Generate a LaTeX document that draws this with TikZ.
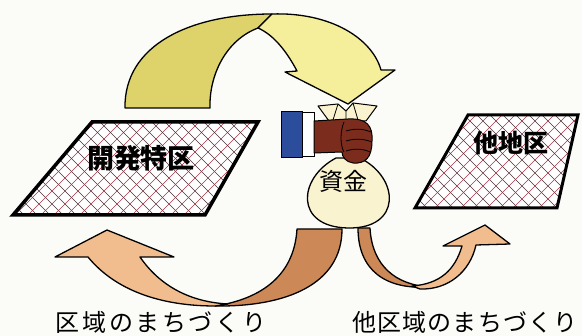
\documentclass[tikz,border=0pt]{standalone}
\usepackage{fontspec}
\newfontfamily\jp{Noto Sans CJK JP}
\newfontfamily\jpwide[LetterSpace=11]{Noto Sans CJK JP}
\newfontfamily\jpmid[LetterSpace=5]{Noto Sans CJK JP}
\definecolor{paper}{HTML}{FBFBF8}
\definecolor{mustard}{HTML}{DDD36A}
\definecolor{paleyellow}{HTML}{F5EF9C}
\definecolor{lightorange}{HTML}{F2BD8E}
\definecolor{darkorange}{HTML}{CD8858}
\definecolor{bagcream}{HTML}{FAF3D0}
\definecolor{skin}{HTML}{7B2C1C}
\definecolor{cuffblue}{HTML}{2C4C9C}
\definecolor{hatchred}{HTML}{A83848}
\definecolor{hatchdark}{HTML}{4A3038}
\tikzset{
  outline/.style={draw=black, line width=1.3pt, line join=round},
  zoneedge/.style={draw=black, line width=3.5pt, line join=miter},
  hatchblack/.style={draw=hatchdark, line width=0.6pt},
  hatchred/.style={draw=hatchred, line width=0.6pt},
  bigtitle/.style={font=\jp\bfseries\fontsize{27}{27}\selectfont, inner sep=0pt},
  caption/.style={inner sep=0pt},
}
\begin{document}
\begin{tikzpicture}[x=1pt, y=-1pt]
\useasboundingbox (0,0) rectangle (582,336);
\fill[paper] (0,0) rectangle (582,336);

% ---------- hatched zones ----------
\begin{scope}
  \clip (13,215) -- (205,215) -- (258,122) -- (92,122) -- cycle;
  \fill[white] (0,100) rectangle (270,230);
  \foreach \k in {-130,-117,...,280} {
    \draw[hatchred] (\k,230) -- ++(130,-130);
    \draw[hatchblack] (\k,100) -- ++(130,130);
  }
\end{scope}
\draw[zoneedge] (13,215) -- (205,215) -- (258,122) -- (92,122) -- cycle;
\node[bigtitle] (dev) at (141,158) {開発特区};

\begin{scope}
  \clip (415,208) -- (557,208) -- (578,115) -- (468,115) -- cycle;
  \fill[white] (400,100) rectangle (590,220);
  \foreach \k in {280,293,...,600} {
    \draw[hatchred] (\k,220) -- ++(120,-120);
    \draw[hatchblack] (\k,100) -- ++(120,120);
  }
\end{scope}
\draw[zoneedge, line width=3pt] (415,208) -- (557,208) -- (578,115) -- (468,115) -- cycle;
\node[bigtitle, font=\jp\bfseries\fontsize{25}{25}\selectfont] (other) at (511,143) {他地区};

% ---------- top arrow: funds flowing into the bag ----------
\draw[outline, fill=mustard]
  (125,108) .. controls (124,45) and (190,14) .. (272,14)
  -- (258,28)
  .. controls (226,40) and (209,75) .. (210,108) -- cycle;
\draw[outline, fill=paleyellow]
  (272,14) .. controls (330,12) and (372,38) .. (381,70)
  -- (395,70) -- (348,104) -- (285,72) -- (297,71)
  .. controls (287,52) and (274,35) .. (258,28) -- cycle;

% ---------- bottom arrows: spending on town development ----------
\draw[outline, fill=darkorange]
  (297,229) -- (342,229)
  .. controls (342,285) and (285,307) .. (215,306)
  .. controls (255,300) and (294,280) .. (297,229) -- cycle;
\draw[outline, fill=lightorange]
  (215,306) .. controls (160,306) and (115,290) .. (88,257)
  -- (55,257) -- (107,230) -- (174,257) -- (140,257)
  .. controls (160,286) and (190,302) .. (228,304) -- cycle;

\draw[outline, fill=darkorange]
  (358,228) -- (370,228)
  .. controls (372,266) and (396,285) .. (430,287)
  .. controls (385,290) and (358,270) .. (358,228) -- cycle;
\draw[outline, fill=lightorange]
  (420,289) .. controls (448,290) and (470,272) .. (476,245)
  -- (510,244) -- (485,225) -- (443,246) -- (462,246)
  .. controls (455,270) and (440,284) .. (412,286) -- cycle;

% ---------- money bag ----------
\draw[outline, fill=bagcream]
  (336,158) .. controls (298,178) and (294,227) .. (348,228)
  .. controls (402,229) and (400,178) .. (360,158) -- cycle;
\node[font=\jp\fontsize{24}{24}\selectfont, inner sep=0pt] (fund) at (343,181) {資金};

% tied top of the bag
\draw[outline, line width=1pt, fill=bagcream]
  (318,106) -- (338,104) -- (346,111) -- (353,103) -- (377,106)
  -- (366,121) -- (329,121) -- cycle;
\draw[line width=0.8pt] (338,104) -- (333,120) (353,103) -- (358,120) (346,111) -- (346,120);

% ---------- hand holding the bag ----------
\draw[draw=black, line width=1pt, fill=white] (300,113) rectangle (314,157);
\draw[draw=black, line width=1pt, fill=cuffblue] (281,112) rectangle (302,158);
\draw[outline, line width=1pt, fill=skin]
  (314,121) -- (348,119)
  .. controls (367,118) and (373,126) .. (372,141)
  .. controls (372,158) and (365,164) .. (353,163)
  .. controls (346,162) and (342,157) .. (342,152)
  -- (314,153) -- cycle;
\draw[black, line width=0.8pt]
  (346,131) .. controls (356,128) and (364,129) .. (371,132)
  (346,141) .. controls (356,138) and (364,139) .. (372,142)
  (346,151) .. controls (355,148) and (364,149) .. (370,152)
  (344,122) .. controls (340,132) and (340,145) .. (344,152);

% ---------- captions ----------
\node[caption, font=\jpwide\fontsize{24}{24}\selectfont] (leftcap) at (161,322) {区域のまちづくり};
\node[caption, font=\jpmid\fontsize{24}{24}\selectfont] (rightcap) at (465,322) {他区域のまちづくり};
\end{tikzpicture}
\end{document}
